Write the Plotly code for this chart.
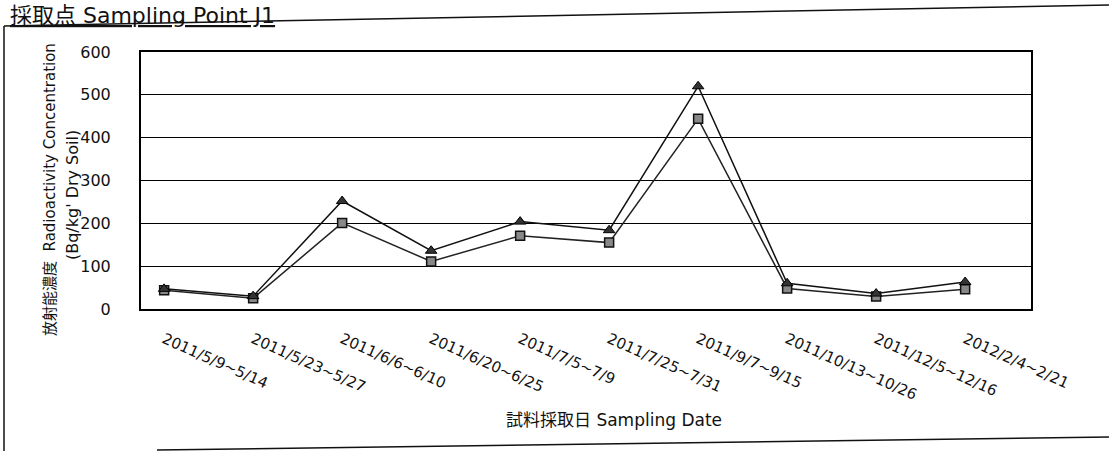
import plotly.graph_objects as go

periods = ["2011/5/9~5/14", "2011/5/23~5/27", "2011/6/6~6/10", "2011/6/20~6/25",
           "2011/7/5~7/9", "2011/7/25~7/31", "2011/9/7~9/15", "2011/10/13~10/26",
           "2011/12/5~12/16", "2012/2/4~2/21"]
upper = [47, 30, 252, 136, 204, 184, 520, 60, 36, 63]
lower = [44, 25, 201, 111, 171, 155, 444, 48, 29, 46]

fnt = "DejaVu Sans, Noto Sans CJK JP"
x = list(range(len(periods)))

# plot box in pixels
L, R, T, B = 141, 1031, 52, 309
W, H = R - L, B - T
def px(v):
    return (v - L) / W
def py(v):
    return (B - v) / H

fig = go.Figure()
fig.add_trace(go.Scatter(x=x, y=lower, mode="lines+markers",
                         line=dict(color="#222", width=1.5),
                         marker=dict(symbol="square", size=9, color="#888",
                                     line=dict(color="#111", width=1.5))))
fig.add_trace(go.Scatter(x=x, y=upper, mode="lines+markers",
                         line=dict(color="#111", width=1.5),
                         marker=dict(symbol="triangle-up", size=10, color="#333",
                                     line=dict(color="#000", width=1))))

fig.update_layout(
    width=1109, height=451,
    margin=dict(l=L, r=1109 - R, t=T, b=451 - B),
    plot_bgcolor="white", paper_bgcolor="white",
    showlegend=False,
    font=dict(family=fnt, color="#111", size=14),
)
fig.update_xaxes(range=[-0.26, 9.74], tickvals=x, ticktext=periods, tickangle=24,
                 showgrid=False, zeroline=False, showline=True, linecolor="#000",
                 linewidth=2, mirror=True, ticks="", ticklabelstandoff=14,
                 tickfont=dict(size=15, family=fnt))
fig.update_yaxes(range=[0, 600], dtick=100, showgrid=True, gridcolor="#000",
                 gridwidth=1, zeroline=False, showline=True, linecolor="#000",
                 linewidth=2, mirror=True, ticks="", tickfont=dict(size=16, family=fnt),
                 ticklabelstandoff=25)

# outer frame of the scanned sheet
frame = dict(color="#111", width=1.5)
fig.add_shape(type="line", xref="paper", yref="paper", x0=px(4), y0=py(26), x1=px(1109), y1=py(5), line=frame)
fig.add_shape(type="line", xref="paper", yref="paper", x0=px(4), y0=py(26), x1=px(4), y1=py(451), line=frame)
fig.add_shape(type="line", xref="paper", yref="paper", x0=px(157), y0=py(450), x1=px(1109), y1=py(437), line=frame)

fig.add_annotation(text="<u>採取点 Sampling Point J1</u>", x=px(8), y=py(1),
                   xref="paper", yref="paper", xanchor="left", yanchor="top",
                   showarrow=False, font=dict(size=22, family=fnt))
fig.add_annotation(text="放射能濃度  Radioactivity Concentration", textangle=-90,
                   x=px(50), y=py(190), xref="paper", yref="paper", showarrow=False,
                   xanchor="center", yanchor="middle", font=dict(size=15, family=fnt))
fig.add_annotation(text="(Bq/kg' Dry Soil)", textangle=-90,
                   x=px(72), y=py(195), xref="paper", yref="paper", showarrow=False,
                   xanchor="center", yanchor="middle", font=dict(size=16, family=fnt))
fig.add_annotation(text="試料採取日 Sampling Date", x=px(614), y=py(420),
                   xref="paper", yref="paper", showarrow=False,
                   xanchor="center", yanchor="middle", font=dict(size=17, family=fnt))
fig.write_html("out.html", config={"displayModeBar": False},
               post_script="document.body.style.margin='0';")
